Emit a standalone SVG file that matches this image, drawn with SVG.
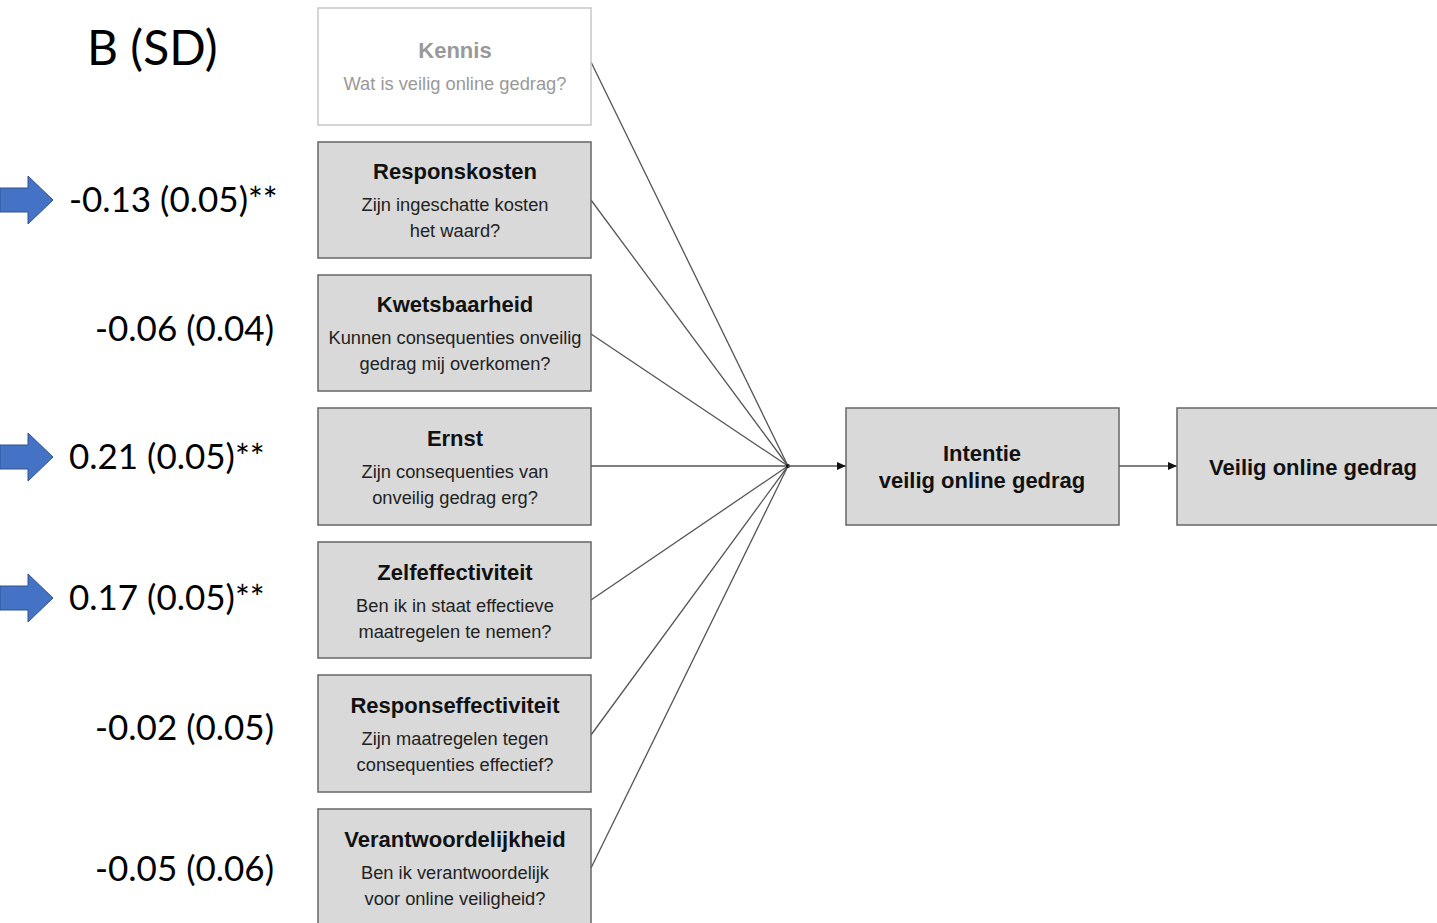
<svg xmlns="http://www.w3.org/2000/svg" width="1437" height="923" viewBox="0 0 1437 923">
<style>
.box{fill:#d9d9d9;stroke:#666;stroke-width:1.5}
.kbox{fill:#fff;stroke:#c8c8c8;stroke-width:1.5}
.t{font-family:"Liberation Sans",Arial,sans-serif;font-weight:bold;font-size:22px;fill:#111;text-anchor:middle}
.s{font-family:"Liberation Sans",Arial,sans-serif;font-size:18.3px;fill:#222;text-anchor:middle}
.g{fill:#999}
.num{font-family:Lato,"Open Sans",sans-serif;font-size:35px;fill:#000}
.conn{stroke:#555;stroke-width:1.3;fill:none}
.barrow{fill:#4472c4;stroke:#2f528f;stroke-width:1}
</style>
<defs>
<marker id="ah" markerWidth="10" markerHeight="8" refX="9" refY="4" orient="auto" markerUnits="userSpaceOnUse">
<path d="M0,0 L9,4 L0,8 Z" fill="#111"/>
</marker>
</defs>
<rect width="1437" height="923" fill="#fff"/>

<text x="87" y="65" style="font-family:Lato,'Open Sans',sans-serif;font-size:48px;fill:#000">B (SD)</text>

<g id="labels">
<path class="barrow" d="M0,188 L28,188 L28,176 L53,200 L28,224 L28,212 L0,212 Z"/>
<text class="num" x="69" y="212">-0.13 (0.05)**</text>
<text class="num" x="274" y="341" text-anchor="end">-0.06 (0.04)</text>
<path class="barrow" d="M0,445 L28,445 L28,433 L53,457 L28,481 L28,469 L0,469 Z"/>
<text class="num" x="69" y="469">0.21 (0.05)**</text>
<path class="barrow" d="M0,586 L28,586 L28,574 L53,598 L28,622 L28,610 L0,610 Z"/>
<text class="num" x="69" y="610">0.17 (0.05)**</text>
<text class="num" x="274" y="740" text-anchor="end">-0.02 (0.05)</text>
<text class="num" x="274" y="881" text-anchor="end">-0.05 (0.06)</text>
</g>

<g id="connectors">
<line class="conn" x1="591" y1="62" x2="788" y2="466"/>
<line class="conn" x1="591" y1="200" x2="788" y2="466"/>
<line class="conn" x1="591" y1="334" x2="788" y2="466"/>
<line class="conn" x1="591" y1="466" x2="788" y2="466"/>
<line class="conn" x1="591" y1="600" x2="788" y2="466"/>
<line class="conn" x1="591" y1="735" x2="788" y2="466"/>
<line class="conn" x1="591" y1="868" x2="788" y2="466"/>
<circle cx="788" cy="466" r="2" fill="#111"/>
<line class="conn" x1="788" y1="466" x2="846" y2="466" marker-end="url(#ah)"/>
<line class="conn" x1="1119" y1="466" x2="1177" y2="466" marker-end="url(#ah)"/>
</g>

<g id="kennis">
<rect class="kbox" x="318" y="8" width="273" height="117"/>
<text class="t g" x="455" y="58">Kennis</text>
<text class="s g" x="455" y="90">Wat is veilig online gedrag?</text>
</g>
<g id="responskosten">
<rect class="box" x="318" y="142" width="273" height="116"/>
<text class="t" x="455" y="179">Responskosten</text>
<text class="s" x="455" y="211">Zijn ingeschatte kosten</text>
<text class="s" x="455" y="237">het waard?</text>
</g>
<g id="kwetsbaarheid">
<rect class="box" x="318" y="275" width="273" height="116"/>
<text class="t" x="455" y="312">Kwetsbaarheid</text>
<text class="s" x="455" y="344">Kunnen consequenties onveilig</text>
<text class="s" x="455" y="370">gedrag mij overkomen?</text>
</g>
<g id="ernst">
<rect class="box" x="318" y="408" width="273" height="117"/>
<text class="t" x="455" y="446">Ernst</text>
<text class="s" x="455" y="478">Zijn consequenties van</text>
<text class="s" x="455" y="504">onveilig gedrag erg?</text>
</g>
<g id="zelfeffectiviteit">
<rect class="box" x="318" y="542" width="273" height="116"/>
<text class="t" x="455" y="580">Zelfeffectiviteit</text>
<text class="s" x="455" y="612">Ben ik in staat effectieve</text>
<text class="s" x="455" y="638">maatregelen te nemen?</text>
</g>
<g id="responseffectiviteit">
<rect class="box" x="318" y="675" width="273" height="117"/>
<text class="t" x="455" y="713">Responseffectiviteit</text>
<text class="s" x="455" y="745">Zijn maatregelen tegen</text>
<text class="s" x="455" y="771">consequenties effectief?</text>
</g>
<g id="verantwoordelijkheid">
<rect class="box" x="318" y="809" width="273" height="120"/>
<text class="t" x="455" y="847">Verantwoordelijkheid</text>
<text class="s" x="455" y="879">Ben ik verantwoordelijk</text>
<text class="s" x="455" y="905">voor online veiligheid?</text>
</g>
<g id="intentie">
<rect class="box" x="846" y="408" width="273" height="117"/>
<text class="t" x="982" y="461">Intentie</text>
<text class="t" x="982" y="488">veilig online gedrag</text>
</g>
<g id="gedrag">
<rect class="box" x="1177" y="408" width="270" height="117"/>
<text class="t" x="1313" y="475">Veilig online gedrag</text>
</g>
</svg>
